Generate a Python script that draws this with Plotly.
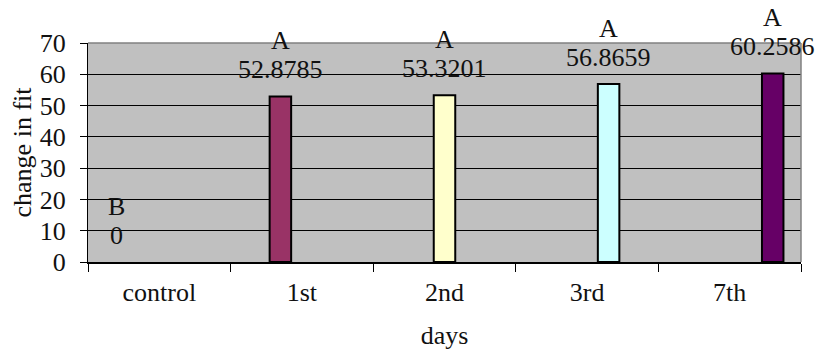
import plotly.graph_objects as go

categories = ["control", "1st", "2nd", "3rd", "7th"]
values = [0, 52.8785, 53.3201, 56.8659, 60.2586]
value_labels = ["0", "52.8785", "53.3201", "56.8659", "60.2586"]
letters = ["B", "A", "A", "A", "A"]
colors = ["#9999FF", "#993366", "#FFFFCC", "#CCFFFF", "#660066"]

FONT = "Liberation Serif"
FS = 26
TC = "#111"
bargap = 0.246
n = len(categories)
w = (1 - bargap) / n

fig = go.Figure()
for i, (c, v, col) in enumerate(zip(categories, values, colors)):
    fig.add_trace(go.Bar(
        x=[c], y=[v], name=c,
        width=w, offset=-(1 - bargap) / 2 + i * w,
        marker=dict(color=col, line=dict(color="black", width=2 if v > 0 else 0)),
        showlegend=False,
    ))

annotations = []
for i, (v, lab, let) in enumerate(zip(values, value_labels, letters)):
    xpos = i - (1 - bargap) / 2 + (i + 0.5) * w
    annotations.append(dict(x=xpos, y=v, xref="x", yref="y", text=lab, showarrow=False,
                            yshift=27, font=dict(family=FONT, size=FS, color=TC)))
    annotations.append(dict(x=xpos, y=v, xref="x", yref="y", text=let, showarrow=False,
                            yshift=56, font=dict(family=FONT, size=FS, color=TC)))

fig.update_layout(
    width=818, height=350,
    margin=dict(l=88, r=17, t=43, b=88),
    paper_bgcolor="white", plot_bgcolor="#C0C0C0",
    barmode="overlay",
    font=dict(family=FONT, size=FS, color=TC),
    annotations=annotations,
    shapes=[
        dict(type="line", xref="paper", yref="paper", x0=0, x1=1, y0=1, y1=1,
             line=dict(color="#808080", width=1.5), layer="above"),
        dict(type="line", xref="paper", yref="paper", x0=1, x1=1, y0=0, y1=1,
             line=dict(color="#808080", width=1.5), layer="above"),
    ],
)
fig.update_yaxes(
    range=[0, 70], dtick=10, showgrid=True, gridcolor="black", gridwidth=1,
    showline=True, linecolor="black", linewidth=1,
    ticks="outside", ticklen=7, tickcolor="black", ticklabelstandoff=9,
    tickfont=dict(family=FONT, size=FS, color=TC),
    title=dict(text="change in fit", font=dict(family=FONT, size=FS, color=TC), standoff=0),
    zeroline=False, automargin=False,
)
fig.update_xaxes(
    showline=True, linecolor="black", linewidth=1.5,
    ticks="outside", ticklen=8, tickcolor="black", tickson="boundaries",
    ticklabelstandoff=6, range=[-0.5, 4.5],
    tickfont=dict(family=FONT, size=FS, color=TC),
    title=dict(text="days", font=dict(family=FONT, size=FS, color=TC), standoff=24),
    showgrid=False, automargin=False,
)
fig.write_html("out.html")
